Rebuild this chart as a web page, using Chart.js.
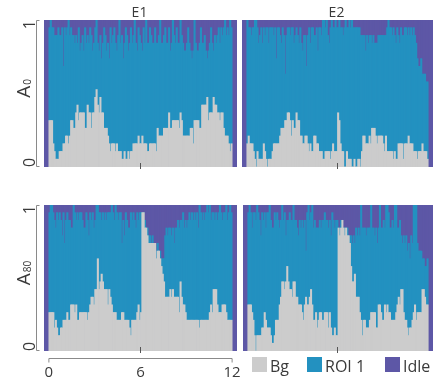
<!DOCTYPE html>
<html>
<head>
<meta charset="utf-8">
<script src="https://cdn.jsdelivr.net/npm/chart.js@4.4.1/dist/chart.umd.min.js"></script>
<style>
  html, body { margin: 0; padding: 0; background: #fff; }
  #wrap { position: relative; width: 433px; height: 381px; overflow: hidden; }
  canvas { position: absolute; }
</style>
</head>
<body>
<div id="wrap">
  <canvas id="e1a0" width="240" height="185" style="left:0;top:0"></canvas>
  <canvas id="e2a0" width="193" height="185" style="left:240px;top:0"></canvas>
  <canvas id="e1a80" width="240" height="196" style="left:0;top:185px"></canvas>
  <canvas id="e2a80" width="193" height="196" style="left:240px;top:185px"></canvas>
</div>
<script>
// counts out of 19 per bin, 144 bins over 12 h
const total = 19
const xTicks = [0, 6, 12]
const yTicks = [0, 1]
const seriesNames = ["Bg", "ROI 1", "Idle"]
const colors = ["#cccccc", "#2391c0", "#5d57a6"]
const textColor = "#3a3a3a"
const font = "'Open Sans', sans-serif"

// E1 / A0
const e1A0Bg = [
  6,6,6,3,2,1,1,1,2,2, 2,3,3,4,4,3,4,6,6,5, 5,7,8,6,7,7,7,7,5,5,
  8,7,7,5,7,7,9,10,8,7, 9,7,7,5,5,5,4,3,2,3, 3,3,2,3,2,2,2,1,1,2,
  1,1,2,1,2,2,3,3,3,3, 4,3,3,4,3,3,3,2,2,3, 3,3,3,3,2,5,4,4,4,4,
  5,5,5,5,7,5,5,6,6,6, 6,6,5,7,6,4,4,4,4,4, 4,5,5,3,6,6,6,6,5,5,
  8,8,8,8,9,6,7,7,7,9, 8,8,7,7,6,7,7,5,4,4, 4,3,2,3
]
const e1A0Idle = [
  1,0,1,1,2,2,2,1,2,2, 1,6,1,2,1,0,2,1,2,2,3, 2,3,1,4,3,2,4,1,3,2,
  3,1,2,4,3,1,0,3,4,2, 5,3,1,2,4,3,5,1,3,2, 1,3,4,2,0,3,2,5,3,1,
  2,4,3,1,3,2,0,3,4,1,2, 3,4,1,3,0,3,3,1,2, 3,3,1,3,3,2,0,3,3,2,
  1,3,3,1,4,3,0,2,3,1, 3,3,0,2,3,4,4,3,1,3, 4,5,4,0,3,4,4,3,1,3,
  3,2,4,5,4,3,1,3,4,2, 3,2,1,3,1,2,1,0,2,1,2,0,1
]

// E2 / A0
const e2A0Bg = [
  3,4,3,3,3,2,1,0,2,1, 1,1,1,3,2,1,0,1,1,1, 2,3,3,3,3,3,4,5,5,5,
  6,6,7,7,6,4,6,5,5,7, 6,6,4,4,3,3,4,4,3,2, 3,2,2,4,4,3,3,2,2,2,
  1,1,2,2,2,2,1,2,3,2, 2,2,7,6,3,2,2,0,0,2, 1,1,1,0,0,1,0,0,1,1,
  0,2,4,4,3,3,3,4,3,5, 5,5,4,3,4,4,4,4,3,2, 4,2,2,2,2,2,1,2,1,1,
  3,3,3,3,1,3,3,3,4,3, 3,3,2,2,2,1,2,2,2,3, 2,2,2,1
]
const e2A0Idle = [
  0,1,1,2,1,1,0,0,1,3, 2,1,3,1,2,1,1,3,1,1, 1,2,1,5,1,1,2,3,1,2,
  7,2,1,1,2,1,1,3,2,1, 2,3,1,3,4,2,2,6,2,1, 3,1,1,2,2,1,4,1,1,2,
  0,0,1,0,2,3,1,0,1,1, 0,1,1,0,1,1,2,1,0,1, 1,0,1,0,1,1,1,1,1,1,
  2,2,2,2,4,2,3,2,2,3, 2,3,3,3,2,2,2,2,2,2, 2,1,0,1,1,2,1,2,3,1,
  2,3,1,2,2,1,1,2,1,2, 1,2,1,2,3,5,6,6,5,7,7,7,8,8
]

// E1 / A80
const e1A80Bg = [
  5,5,5,5,3,4,3,2,2,3, 3,4,4,4,5,4,4,6,6,6, 5,6,4,4,5,5,5,5,5,5,
  4,5,6,7,7,6,8,8,12,8, 9,10,9,8,8,8,6,8,7,6, 5,5,5,4,4,4,4,5,5,4,
  4,4,4,3,2,4,4,4,4,5, 6,4,5,18,18,16,16,15,14,14, 14,14,14,14,12,13,13,12,11,10,
  9,7,7,7,7,8,7,8,7,7, 7,7,5,9,7,6,6,5,4,4, 4,4,4,4,4,4,4,4,3,4,
  4,4,4,4,4,4,5,6,5,8, 8,8,6,5,5,5,6,6,6,5, 4,4,4,4
]
const e1A80Idle = [
  1,0,0,1,2,3,1,2,1,2, 4,1,5,2,1,2,2,3,3,0, 1,2,1,2,1,1,2,3,3,1,
  2,4,1,2,1,3,2,0,0,1, 1,2,1,2,1,2,1,1,1,0, 1,2,0,1,2,1,1,5,2,4,
  1,2,3,3,1,2,1,2,3,1, 2,1,1,1,1,2,3,3,4,4, 5,4,5,5,6,5,6,6,7,7,
  7,4,3,4,3,3,4,3,5,3, 3,2,3,2,2,1,3,2,3,2, 1,2,1,2,1,2,1,3,0,1,
  2,1,2,1,0,1,0,2,1,1, 2,1,2,1,0,1,2,1,1,0, 2,1,0,1
]

// E2 / A80
const e2A80Bg = [
  6,6,6,5,4,2,0,2,2,2, 2,3,3,5,4,3,3,3,2,1, 1,2,4,4,4,6,7,9,9,8,
  9,11,9,8,8,7,9,9,7,7, 6,6,6,5,4,6,7,6,6,7, 8,6,4,4,5,3,4,5,5,4,
  4,5,5,5,3,5,3,2,2,3, 2,2,16,15,16,17,16,15,16,15, 15,14,11,9,9,10,7,7,7,5,
  4,2,4,4,3,3,3,4,5,5, 5,5,3,3,6,6,5,4,4,6, 5,6,5,5,4,4,4,4,5,6,
  7,6,8,8,5,4,4,3,2,3, 3,4,5,6,4,5,5,5,5,8, 8,7,6,6
]
const e2A80Idle = [
  1,0,1,3,1,1,2,0,1,2, 4,1,2,1,3,1,1,0,2,3, 3,1,2,1,2,3,2,0,2,1,
  4,2,2,1,2,2,0,2,2,3, 4,2,3,2,3,2,6,1,0,2, 1,0,3,2,3,3,3,2,3,2,
  2,1,2,2,3,2,4,1,2,3, 2,2,3,3,2,2,3,3,3,3, 4,4,4,5,4,5,3,4,3,4,
  0,3,3,3,4,3,3,3,0,3, 3,4,3,5,3,0,3,3,2,3, 0,0,1,3,3,2,3,0,0,3,
  3,2,4,5,4,5,4,6,5,7, 4,5,0,0,0,5,6,6,6,7, 7,8,8,7
]

const allSeries = { e1A0Bg, e1A0Idle, e2A0Bg, e2A0Idle, e1A80Bg, e1A80Idle, e2A80Bg, e2A80Idle }
for (const [name, arr] of Object.entries(allSeries)) {
  if (arr.length !== 144) throw new Error(name + " has " + arr.length + " values")
}

// bin centres in hours
const hours = e1A0Bg.map((_, i) => ((i + 0.5) * 12) / e1A0Bg.length)

function rotatedText(ctx, text, x, y, align) {
  ctx.save()
  ctx.translate(x, y)
  ctx.rotate(-Math.PI / 2)
  ctx.textAlign = align
  ctx.fillText(text, 0, 0)
  ctx.restore()
}

const decor = {
  id: "decor",
  beforeDatasetsDraw(chart) {
    const { ctx, chartArea: a } = chart
    ctx.save()
    ctx.fillStyle = colors[2]
    ctx.fillRect(a.left, a.top, a.right - a.left, a.bottom - a.top)
    ctx.restore()
  },
  afterDraw(chart, args, opts) {
    const { ctx, chartArea: a } = chart
    const xs = chart.scales.x
    const ys = chart.scales.y
    ctx.save()
    ctx.fillStyle = textColor
    ctx.textBaseline = "alphabetic"

    // panel title
    if (opts.title) {
      ctx.font = "14px " + font
      ctx.textAlign = "center"
      ctx.fillText(opts.title, (a.left + a.right) / 2 - 1, a.top - 3)
    }

    // small marker at 6 h
    const mid = Math.round(xs.getPixelForValue(6)) - 0.5
    ctx.strokeStyle = "#555"
    ctx.lineWidth = 1
    ctx.beginPath()
    ctx.moveTo(mid, a.bottom - 4)
    ctx.lineTo(mid, a.bottom + 2)
    ctx.stroke()

    // left axis
    if (opts.yLabel) {
      const ax = a.left - 7.5
      const top = ys.getPixelForValue(yTicks[1])
      const bot = ys.getPixelForValue(yTicks[0])
      ctx.strokeStyle = "#8a8a8a"
      ctx.beginPath()
      ctx.moveTo(ax + 3, top + 0.5)
      ctx.lineTo(ax, top + 0.5)
      ctx.lineTo(ax, bot - 0.5)
      ctx.lineTo(ax + 3, bot - 0.5)
      ctx.stroke()

      ctx.font = "16px " + font
      rotatedText(ctx, String(yTicks[1]), ax - 2, top, "right")
      rotatedText(ctx, String(yTicks[0]), ax - 2, bot, "left")

      // axis title A with subscript
      const cy = (top + bot) / 2 - 5
      ctx.save()
      ctx.translate(a.left - 14, cy)
      ctx.rotate(-Math.PI / 2)
      ctx.font = "19px " + font
      const wA = ctx.measureText(opts.yLabel).width
      ctx.font = "10px " + font
      const wS = ctx.measureText(opts.sub).width
      const start = -(wA + wS + 1) / 2
      ctx.textAlign = "left"
      ctx.font = "19px " + font
      ctx.fillText(opts.yLabel, start, 0)
      ctx.font = "10px " + font
      ctx.fillText(opts.sub, start + wA + 1, 1)
      ctx.restore()
    }

    // bottom axis
    if (opts.xAxis) {
      const ay = a.bottom + 7.5
      const x0 = xs.getPixelForValue(xTicks[0])
      const x1 = xs.getPixelForValue(xTicks[xTicks.length - 1])
      ctx.strokeStyle = "#8a8a8a"
      ctx.beginPath()
      ctx.moveTo(x0, ay + 4)
      ctx.lineTo(x0, ay)
      ctx.lineTo(x1, ay)
      ctx.lineTo(x1, ay + 4)
      ctx.stroke()
      ctx.font = "15px " + font
      ctx.textAlign = "center"
      xTicks.forEach((t) => {
        ctx.fillText(String(t), xs.getPixelForValue(t), a.bottom + 26)
      })
    }

    // legend
    if (opts.legend) {
      const offsets = [9, 64, 142]
      ctx.font = "16px " + font
      ctx.textAlign = "left"
      chart.data.datasets.forEach((ds, k) => {
        const bx = a.left + offsets[k]
        ctx.fillStyle = ds.backgroundColor
        ctx.fillRect(bx, a.bottom + 6, 15, 15)
        ctx.fillStyle = textColor
        ctx.fillText(ds.label, bx + 18, a.bottom + 21)
      })
    }
    ctx.restore()
  },
}

function makePanel(id, bg, idle, decorOpts, padding) {
  const roi = bg.map((b, i) => total - b - idle[i])
  const series = [bg, roi, idle]
  return new Chart(document.getElementById(id), {
    type: "bar",
    data: {
      datasets: series.map((vals, k) => ({
        label: seriesNames[k],
        data: vals.map((v, i) => ({ x: hours[i], y: v / total })),
        backgroundColor: colors[k],
        borderWidth: 0,
        barPercentage: 1,
        categoryPercentage: 1,
        inflateAmount: 0.4,
      })),
    },
    options: {
      responsive: false,
      animation: false,
      devicePixelRatio: 1,
      layout: { padding },
      plugins: {
        legend: { display: false },
        tooltip: { enabled: false },
        decor: decorOpts,
      },
      scales: {
        x: { type: "linear", min: -0.32, max: 12.32, offset: false, stacked: true, display: false },
        y: { min: 0, max: 1, stacked: true, display: false },
      },
    },
    plugins: [decor],
  })
}

makePanel("e1a0", e1A0Bg, e1A0Idle, { title: "E1", yLabel: "A", sub: "0" }, { left: 44, top: 20, right: 3, bottom: 18 })
makePanel("e2a0", e2A0Bg, e2A0Idle, { title: "E2" }, { left: 2, top: 20, right: 0, bottom: 18 })
makePanel("e1a80", e1A80Bg, e1A80Idle, { yLabel: "A", sub: "80", xAxis: true }, { left: 44, top: 20, right: 3, bottom: 30 })
makePanel("e2a80", e2A80Bg, e2A80Idle, { legend: true }, { left: 3, top: 20, right: 0, bottom: 30 })
</script>
</body>
</html>
